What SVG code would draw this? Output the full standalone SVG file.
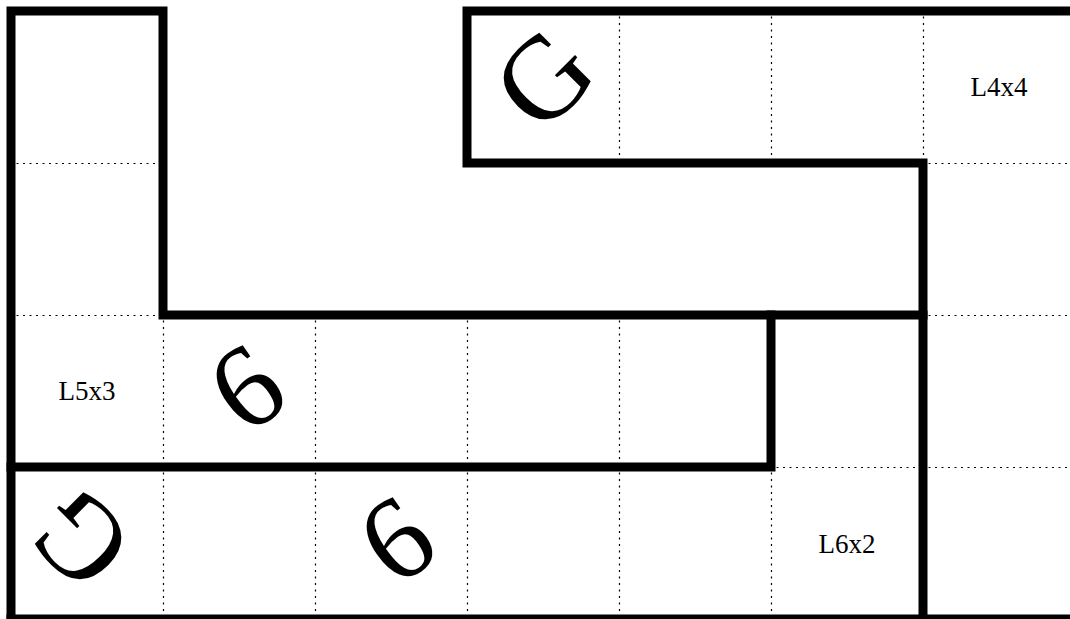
<svg xmlns="http://www.w3.org/2000/svg" width="1070" height="619" viewBox="0 0 1070 619">
<style>
.dot{stroke:#000;stroke-width:1.2;stroke-dasharray:2,4.5;fill:none}
.wall{stroke:#000;stroke-width:9;fill:none;stroke-linecap:square;stroke-linejoin:miter}
.lbl{font-family:"Liberation Serif",serif;font-size:27px;text-anchor:middle;fill:#000}
.gl{font-family:"Liberation Serif",serif;font-size:118px;text-anchor:middle;fill:#000}
</style>
<rect width="1070" height="619" fill="#fff"/>
<g id="connectors">
<g id="grid-dotted" transform="translate(0.5,0.5)">
<path class="dot" d="M16 163H158M16 315H158M163 320V462M315 320V462M467 320V462M619 320V462"/>
<path class="dot" d="M619 16V158M771 16V158M923 16V158M928 163H1070M928 315H1070M928 467H1070"/>
<path class="dot" d="M163 472V614M315 472V614M467 472V614M619 472V614M771 472V614M776 467H918"/>
</g>
<g id="walls">
<path class="wall" d="M11 619V11H163V315H923"/>
<path class="wall" d="M1075 11H467V163H923V619"/>
<path class="wall" d="M11 467H771V315"/>
<path class="wall" d="M11 619H1075"/>
</g>
</g>
<g id="region-L5x3">
<text class="lbl" x="87" y="400">L5x3</text>
<text class="gl" x="0" y="0" transform="translate(246,387) rotate(-35) translate(0,40)">6</text>
</g>
<g id="region-L4x4">
<text class="lbl" x="999" y="96">L4x4</text>
<text class="gl" x="0" y="0" transform="translate(543,78) rotate(-45) translate(0,40)">G</text>
</g>
<g id="region-L6x2">
<text class="lbl" x="847" y="553">L6x2</text>
<text class="gl" x="0" y="0" transform="translate(80,540) rotate(-135) translate(0,40)">G</text>
<text class="gl" x="0" y="0" transform="translate(396,539) rotate(-35) translate(0,40)">6</text>
</g>
</svg>
